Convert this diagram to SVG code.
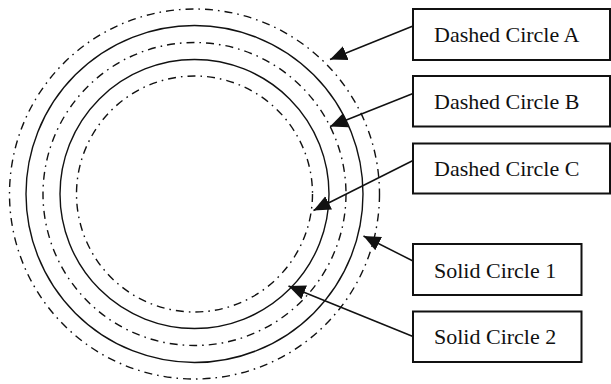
<svg xmlns="http://www.w3.org/2000/svg" width="611" height="384" viewBox="0 0 611 384">
<style>
.solid{fill:none;stroke:#111;stroke-width:1.4}
.dash{fill:none;stroke:#111;stroke-width:1.4;stroke-dasharray:8 5 1.6 5}
.box{fill:#fff;stroke:#111;stroke-width:2}
.lbl{font-family:"Liberation Serif","Times New Roman",serif;font-size:22px;fill:#111}
.conn{stroke:#111;stroke-width:1.5;fill:none;marker-end:url(#ah)}
</style>
<defs>
<marker id="ah" markerUnits="userSpaceOnUse" markerWidth="18" markerHeight="16" refX="17" refY="8" orient="auto">
<path d="M0,0.5 L17,8 L0,15.5 Z" fill="#111"/>
</marker>
</defs>
<rect width="611" height="384" fill="#fff"/>
<g id="circles">
<circle id="dashedA" class="dash" cx="194.5" cy="194" r="185"/>
<circle id="solid1" class="solid" cx="194.5" cy="194" r="168.5"/>
<circle id="dashedB" class="dash" cx="194.5" cy="194" r="151.5"/>
<circle id="solid2" class="solid" cx="194.5" cy="194" r="134.5"/>
<circle id="dashedC" class="dash" cx="194.5" cy="194" r="118"/>
</g>
<g id="connectors">
<line class="conn" x1="413" y1="26" x2="330" y2="59.5"/>
<line class="conn" x1="413" y1="93.5" x2="330" y2="126.5"/>
<line class="conn" x1="413" y1="160.5" x2="313.5" y2="210.5"/>
<line class="conn" x1="413" y1="261" x2="363.5" y2="236"/>
<line class="conn" x1="413" y1="336.5" x2="288.5" y2="286"/>
</g>
<g id="labelA">
<rect class="box" x="413" y="9" width="197" height="51"/>
<text class="lbl" x="434" y="41.5">Dashed Circle A</text>
</g>
<g id="labelB">
<rect class="box" x="413" y="76" width="197" height="50.5"/>
<text class="lbl" x="434" y="108.5">Dashed Circle B</text>
</g>
<g id="labelC">
<rect class="box" x="413" y="143.5" width="197" height="50"/>
<text class="lbl" x="434" y="175.5">Dashed Circle C</text>
</g>
<g id="label1">
<rect class="box" x="413" y="244" width="168.5" height="51"/>
<text class="lbl" x="434" y="277.5">Solid Circle 1</text>
</g>
<g id="label2">
<rect class="box" x="413" y="311.5" width="168.5" height="50.5"/>
<text class="lbl" x="434" y="344">Solid Circle 2</text>
</g>
</svg>
